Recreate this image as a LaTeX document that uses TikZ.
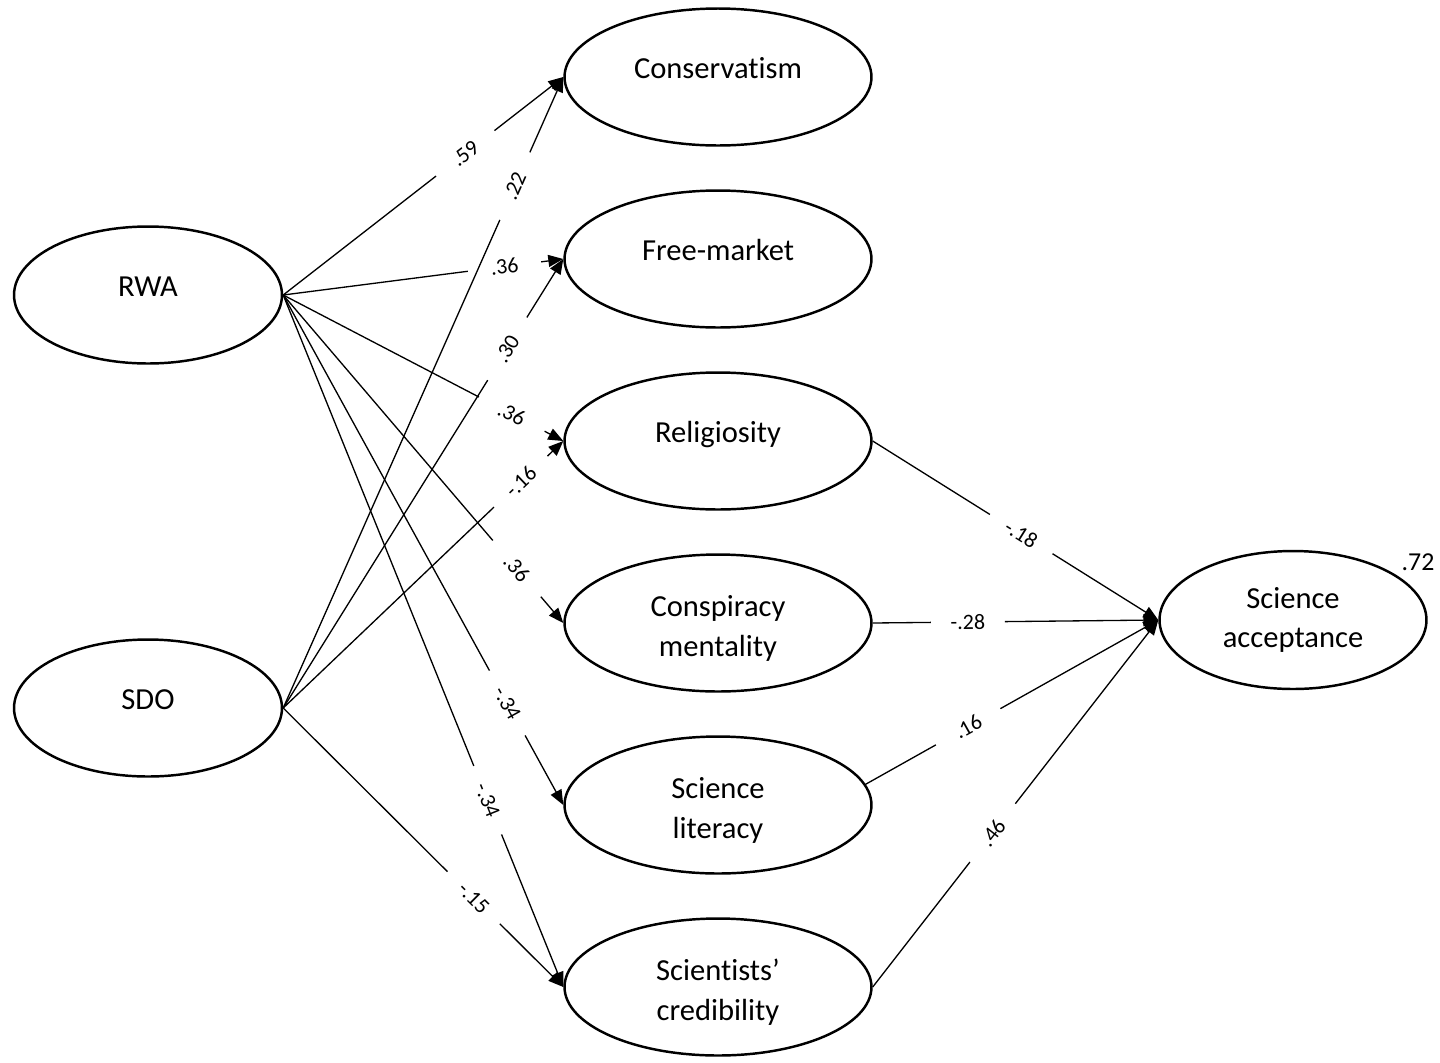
\documentclass[tikz,border=0pt]{standalone}
\usepackage{fontspec}
\setmainfont{Carlito}[Ligatures=NoCommon]
\usetikzlibrary{arrows.meta,calc,shapes.geometric}

\tikzset{
  latent/.style={ellipse, draw, line width=1.4pt, minimum width=6.14cm,
    minimum height=2.74cm, align=center, inner sep=0pt,
    font=\fontsize{17.4}{22.6}\selectfont},
  exo/.style={latent, minimum width=5.36cm},
  oneline/.style={text height=0.4cm, text depth=0.36cm},
  coef/.style={sloped, inner sep=0pt, font=\fontsize{12.5}{14}\selectfont},
  plainline/.style={line width=0.75pt},
  arrowline/.style={plainline, -{Triangle[length=0.3cm,width=0.24cm]}},
}

% taller first line, so that two-line labels sit a little lower
\newcommand\firstline{\rule{0pt}{0.64cm}}

% path from #1 to #2 with coefficient #4 at position #3 (label node #5);
% the line is broken around the coefficient
\newcommand\coefpath[5]{%
  \path (#1) -- (#2) node[coef, pos=#3] (#5) {#4};
  \draw[plainline] (#1) -- ($(#5.center)!0.74cm!(#1)$);
  \draw[arrowline] ($(#5.center)!0.74cm!(#2)$) -- (#2);
}

\begin{document}
\begin{tikzpicture}[x=0.02cm, y=-0.02cm]
  \useasboundingbox (0,0) rectangle (1440,1062);

  % exogenous variables
  \node[exo, oneline] (RWA) at (148,295) {RWA};
  \node[exo, oneline] (SDO) at (148,708) {SDO};

  % mediators
  \node[latent, oneline] (Cons) at (718,77)  {Conservatism};
  \node[latent, oneline] (FM)   at (718,259) {Free-market};
  \node[latent, oneline] (Rel)  at (718,441) {Religiosity};
  \node[latent] (Consp) at (718,623) {\firstline Conspiracy\\mentality};
  \node[latent] (Lit)   at (718,805) {\firstline Science\\literacy};
  \node[latent] (Cred)  at (718,987) {\firstline Scientists’\\credibility};

  % outcome
  \node[latent, minimum width=5.34cm, minimum height=2.76cm] (SA) at (1293,620)
    {Science\\acceptance};
  \node[font=\fontsize{14.7}{16}\selectfont, inner sep=0pt] (r2) at (1418,562) {.72};

  % paths from RWA
  \coefpath{RWA.east}{Cons.west}{0.65}{.59}{c1}
  \coefpath{RWA.east}{FM.west}{0.79}{.36}{c2}
  \coefpath{RWA.east}{Rel.west}{0.816}{.36}{c3}
  \coefpath{RWA.east}{Consp.west}{0.834}{.36}{c4}
  \coefpath{RWA.east}{Lit.west}{0.80}{-.34}{c5}
  \coefpath{RWA.east}{Cred.west}{0.73}{-.34}{c6}

  % paths from SDO
  \coefpath{SDO.east}{Cons.west}{0.827}{.22}{d1}
  \coefpath{SDO.east}{FM.west}{0.80}{.30}{d2}
  \coefpath{SDO.east}{Rel.west}{0.848}{-.16}{d3}
  \coefpath{SDO.east}{Cred.west}{0.68}{-.15}{d4}

  % paths to science acceptance
  \coefpath{Rel.east}{SA.west}{0.52}{-.18}{e1}
  \coefpath{Consp.east}{SA.west}{0.333}{-.28}{e2}
  \coefpath{Lit.8}{SA.west}{0.35}{.16}{e3}
  \coefpath{Cred.east}{SA.west}{0.42}{.46}{e4}
\end{tikzpicture}
\end{document}
